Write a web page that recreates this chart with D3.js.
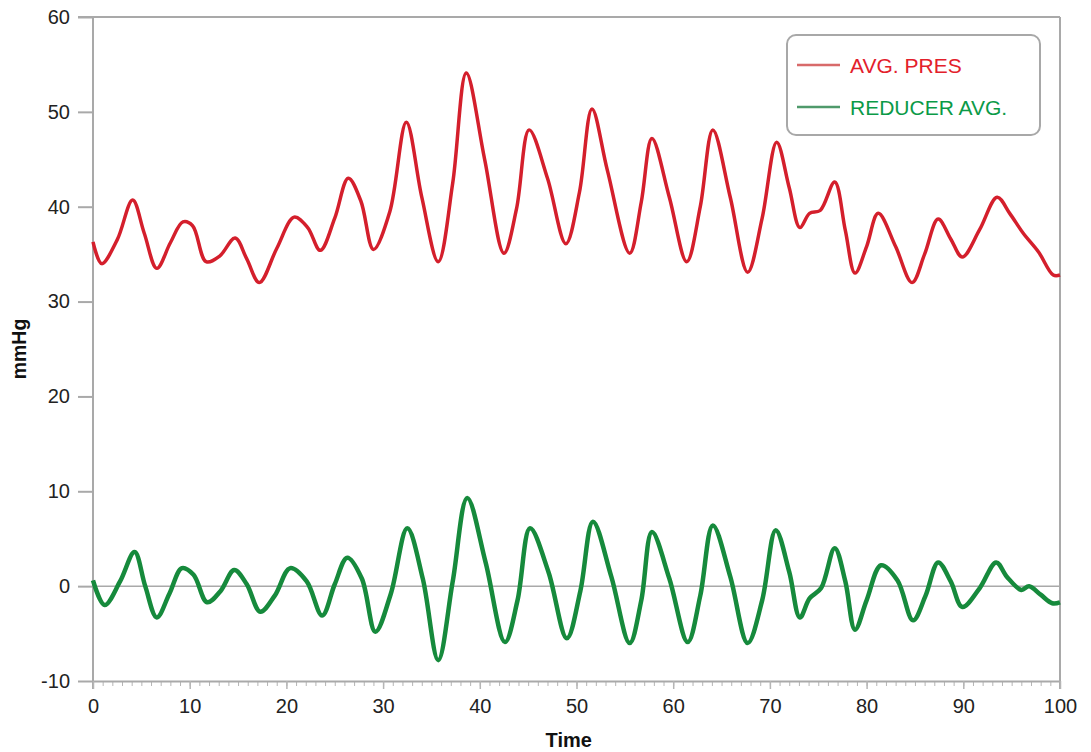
<!DOCTYPE html>
<html>
<head>
<meta charset="utf-8">
<script src="https://cdn.jsdelivr.net/npm/d3@7"></script>
<style>
  body { margin: 0; background: #fff; }
  svg { font-family: "Liberation Sans", Arial, sans-serif; }
  .tick text { font-size: 20px; fill: #222; }
</style>
</head>
<body>
<script>
const width = 1091;
const height = 752;
const margin = { top: 17, right: 31, bottom: 71, left: 93 };

// AVG. PRES (time, mmHg)
const presTime = [0, 0.9, 2.5, 4.1, 5.3, 6.6, 8, 9.3, 10.3, 11.7, 13.1, 14.7, 15.9, 17.2, 19, 20.8, 22.2, 23.5, 25, 26.4, 27.7, 29, 30.7, 32.4, 34, 35.7, 37.2, 38.6, 40.5, 42.5, 43.8, 45.1, 47, 48.9, 50.3, 51.6, 53.2, 55.5, 56.7, 57.8, 59.6, 61.4, 62.8, 64.1, 65.9, 67.7, 69.2, 70.7, 72, 73.1, 74.1, 75.2, 76.7, 77.8, 78.8, 80, 81.2, 83, 84.7, 86, 87.4, 88.7, 89.9, 91.7, 93.5, 94.8, 96.2, 97.8, 99.3, 100];
const presValues = [36.3, 34.0, 36.5, 40.7, 37.2, 33.5, 36.2, 38.4, 38.0, 34.2, 34.8, 36.7, 34.5, 32.0, 35.6, 38.9, 37.8, 35.4, 38.8, 43.0, 40.6, 35.5, 39.5, 48.9, 41.0, 34.2, 42.5, 54.1, 45.0, 35.1, 39.8, 48.1, 43.0, 36.1, 41.5, 50.3, 43.8, 35.1, 40.5, 47.2, 41.0, 34.2, 40.0, 48.1, 41.0, 33.1, 38.8, 46.8, 42.0, 37.8, 39.3, 39.6, 42.6, 37.5, 33.0, 35.8, 39.3, 35.8, 32.0, 35.0, 38.7, 36.6, 34.7, 37.6, 41.0, 39.3, 37.2, 35.2, 32.8, 32.8];

// REDUCER AVG. (time, mmHg)
const redTime = [0, 1.2, 2.8, 4.3, 5.4, 6.6, 7.9, 9.2, 10.4, 11.8, 13.2, 14.6, 15.9, 17.3, 18.8, 20.4, 22.1, 23.7, 25, 26.3, 27.8, 29.2, 30.8, 32.5, 34.1, 35.7, 37.2, 38.7, 40.6, 42.6, 43.9, 45.2, 47.1, 49, 50.4, 51.7, 53.6, 55.5, 56.7, 57.8, 59.6, 61.5, 62.8, 64.1, 65.9, 67.7, 69.2, 70.6, 72, 73.1, 74.1, 75.3, 76.7, 77.8, 78.8, 80, 81.5, 83.2, 84.8, 86.1, 87.4, 88.7, 89.9, 91.7, 93.4, 94.5, 96, 96.8, 98, 99.2, 100];
const redValues = [0.6, -2.0, 0.5, 3.6, 0.0, -3.3, -0.8, 1.9, 1.2, -1.7, -0.5, 1.7, 0.2, -2.7, -1.0, 1.9, 0.5, -3.1, 0.2, 3.0, 0.8, -4.8, -0.8, 6.1, 0.8, -7.8, 0.5, 9.3, 2.5, -5.9, -1.5, 6.1, 1.5, -5.5, -0.5, 6.8, 1.0, -6.0, -1.5, 5.7, 0.8, -5.9, -1.0, 6.4, 1.0, -6.0, -1.5, 5.9, 1.5, -3.3, -1.3, -0.2, 4.0, 0.5, -4.6, -1.5, 2.2, 0.6, -3.6, -1.0, 2.5, 0.5, -2.2, -0.2, 2.5, 1.0, -0.4, 0.0, -0.9, -1.8, -1.7];

const xTicks = d3.range(0, 101, 10);
const xMinorTicks = d3.range(0, 101, 1);
const yTicks = [-10, 0, 10, 20, 30, 40, 50, 60];

const seriesNames = ["AVG. PRES", "REDUCER AVG."];

const svg = d3
  .select("body")
  .append("svg")
  .attr("width", width)
  .attr("height", height);

const x = d3
  .scaleLinear()
  .domain([0, 100])
  .range([margin.left, width - margin.right]);
const y = d3
  .scaleLinear()
  .domain([-10, 60])
  .range([height - margin.bottom, margin.top]);

const grey = "#a9a9a9";

// frame: top and right borders
svg
  .append("line")
  .attr("x1", margin.left - 15)
  .attr("x2", x(100))
  .attr("y1", y(60))
  .attr("y2", y(60))
  .attr("stroke", grey)
  .attr("stroke-width", 2);
svg
  .append("line")
  .attr("x1", x(100))
  .attr("x2", x(100))
  .attr("y1", y(60))
  .attr("y2", y(-10) + 8)
  .attr("stroke", grey)
  .attr("stroke-width", 2);

// zero line
svg
  .append("line")
  .attr("x1", x(0))
  .attr("x2", x(100))
  .attr("y1", y(0))
  .attr("y2", y(0))
  .attr("stroke", grey)
  .attr("stroke-width", 1.5);

// y axis
const yAxis = d3
  .axisLeft(y)
  .tickValues(yTicks)
  .tickSize(15)
  .tickPadding(8)
  .tickFormat((d) => String(d))
  .tickSizeOuter(0);
const yG = svg
  .append("g")
  .attr("transform", `translate(${margin.left},0)`)
  .call(yAxis);
yG.select(".domain").remove();
yG.selectAll(".tick line").attr("stroke", grey).attr("stroke-width", 2);
svg
  .append("line")
  .attr("x1", margin.left)
  .attr("x2", margin.left)
  .attr("y1", y(60))
  .attr("y2", y(-10) + 8)
  .attr("stroke", grey)
  .attr("stroke-width", 2);

// x axis: minor ticks every 1, labels every 10
const xMinor = svg
  .append("g")
  .attr("transform", `translate(0,${y(-10)})`)
  .call(d3.axisBottom(x).tickValues(xMinorTicks).tickSize(5).tickFormat(""));
xMinor.select(".domain").remove();
xMinor.selectAll(".tick line").attr("stroke", "#b5b5b5").attr("stroke-width", 1);

const xG = svg
  .append("g")
  .attr("transform", `translate(0,${y(-10)})`)
  .call(
    d3
      .axisBottom(x)
      .tickValues(xTicks)
      .tickSize(8)
      .tickPadding(10)
      .tickFormat((d) => String(d))
      .tickSizeOuter(0)
  );
xG.select(".domain").attr("stroke", grey).attr("stroke-width", 2);
xG.selectAll(".tick line").attr("stroke", "#b5b5b5").attr("stroke-width", 1.5);

// axis titles
svg
  .append("text")
  .attr("x", x(49.2))
  .attr("y", 747)
  .attr("text-anchor", "middle")
  .attr("font-size", 20)
  .attr("font-weight", "bold")
  .attr("fill", "#111")
  .text("Time");
svg
  .append("text")
  .attr("transform", `translate(26,${y(25)}) rotate(-90)`)
  .attr("text-anchor", "middle")
  .attr("font-size", 19.5)
  .attr("font-weight", "bold")
  .attr("fill", "#111")
  .text("mmHg");

// lines
const line = d3
  .line()
  .x((d) => x(d[0]))
  .y((d) => y(d[1]))
  .curve(d3.curveCatmullRom.alpha(0.5));

svg
  .append("path")
  .datum(d3.zip(presTime, presValues))
  .attr("fill", "none")
  .attr("stroke", "#d41f2c")
  .attr("stroke-width", 3.5)
  .attr("stroke-linejoin", "round")
  .attr("d", line);

svg
  .append("path")
  .datum(d3.zip(redTime, redValues))
  .attr("fill", "none")
  .attr("stroke", "#168a3c")
  .attr("stroke-width", 4.5)
  .attr("stroke-linejoin", "round")
  .attr("d", line);

// legend
const legend = svg.append("g").attr("transform", "translate(787,35)");
legend
  .append("rect")
  .attr("width", 253)
  .attr("height", 100)
  .attr("rx", 9)
  .attr("fill", "#fff")
  .attr("stroke", "#a8a8a8")
  .attr("stroke-width", 2);

const legendLine = ["#d86a6a", "#4f9a6b"];
const legendText = ["#e3202b", "#0b9a47"];
seriesNames.forEach((name, i) => {
  const ly = 30 + i * 42;
  legend
    .append("line")
    .attr("x1", 10)
    .attr("x2", 53)
    .attr("y1", ly)
    .attr("y2", ly)
    .attr("stroke", legendLine[i])
    .attr("stroke-width", 2.5);
  legend
    .append("text")
    .attr("x", 63)
    .attr("y", ly + 7.5)
    .attr("font-size", 21)
    .attr("fill", legendText[i])
    .text(name);
});
</script>
</body>
</html>
